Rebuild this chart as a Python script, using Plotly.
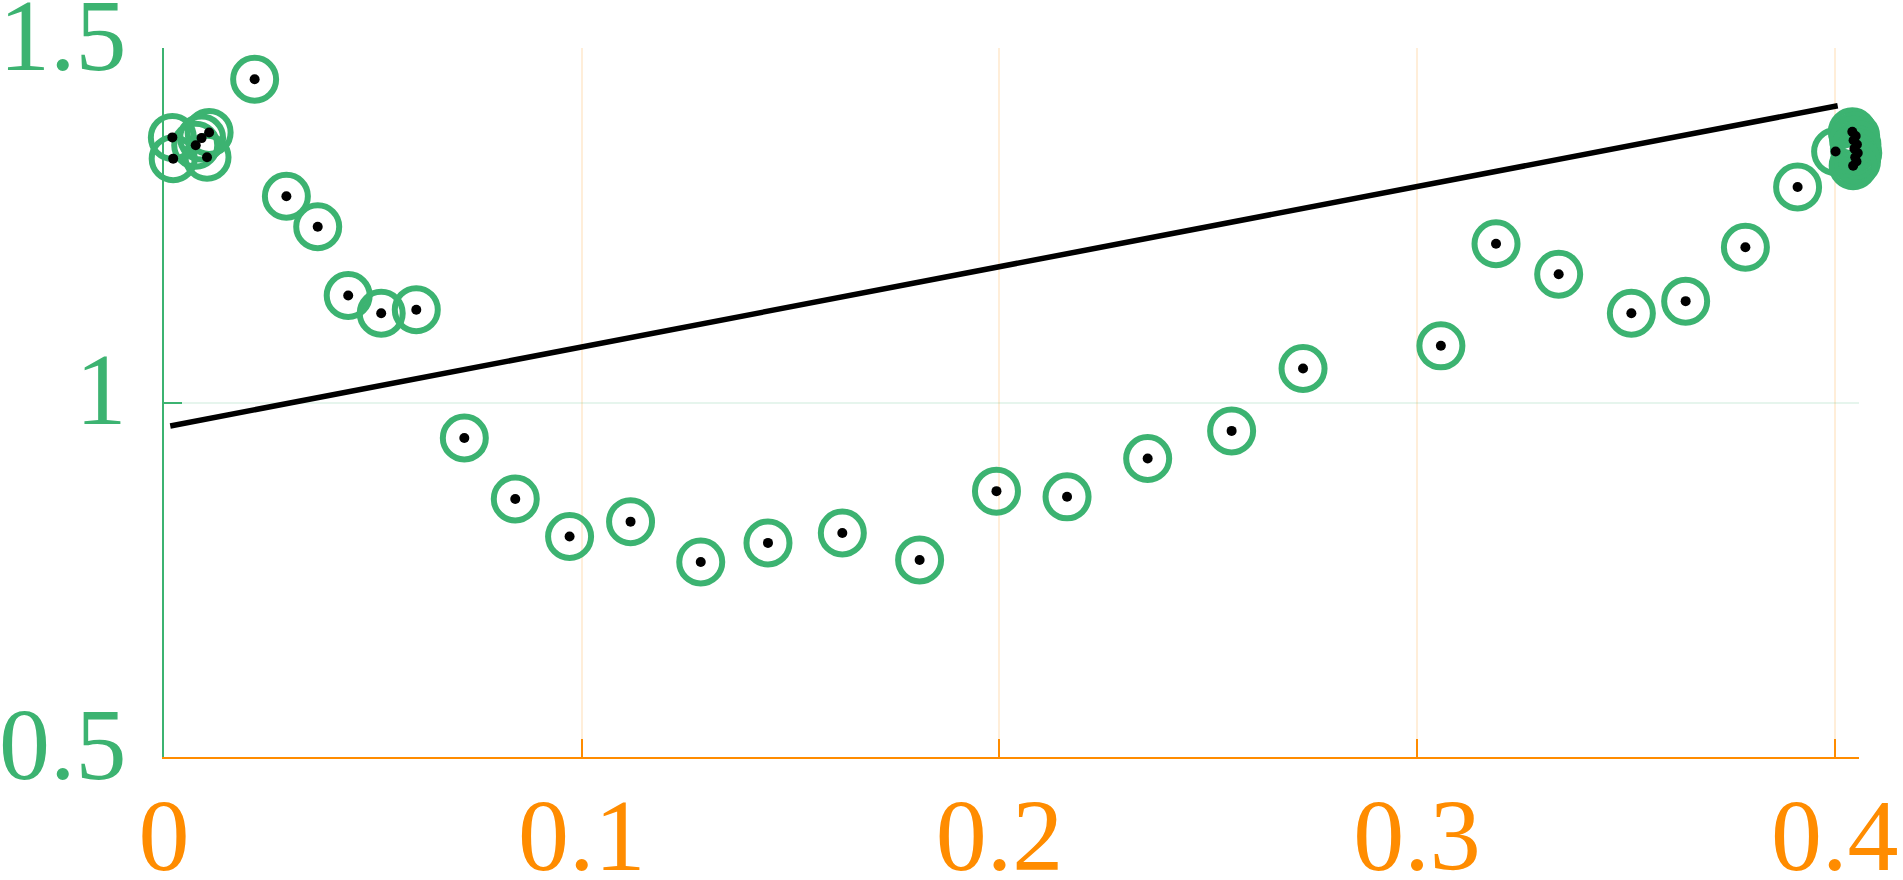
import plotly.graph_objects as go

pts_x = [0.0020, 0.0022, 0.0076, 0.0090, 0.0108, 0.0103,
         0.0217, 0.0293, 0.0368, 0.0441, 0.0520, 0.0604,
         0.0719, 0.0841, 0.0971, 0.1117, 0.1285, 0.1446, 0.1624, 0.1809,
         0.1993, 0.2162, 0.2355, 0.2556, 0.2727, 0.3057, 0.3189, 0.3339,
         0.3513, 0.3643, 0.3786, 0.3911, 0.4002,
         0.4042, 0.4050, 0.4045, 0.4053, 0.4047, 0.4055, 0.4049, 0.4052, 0.4044]
pts_y = [1.374, 1.344, 1.363, 1.373, 1.381, 1.346,
         1.456, 1.291, 1.248, 1.151, 1.126, 1.131,
         0.950, 0.864, 0.811, 0.832, 0.775, 0.802, 0.816, 0.778,
         0.875, 0.867, 0.921, 0.960, 1.048, 1.080, 1.224, 1.181,
         1.126, 1.143, 1.219, 1.304, 1.354,
         1.382, 1.376, 1.370, 1.364, 1.358, 1.352, 1.346, 1.340, 1.334]

# black trend line end points
line_x = [0.0015, 0.4007]
line_y = [0.967, 1.4186]

x_ticks = [0, 0.1, 0.2, 0.3, 0.4]
x_labels = ["0", "0.1", "0.2", "0.3", "0.4"]
y_ticks = [0.5, 1, 1.5]
y_labels = ["0.5", "1", "1.5"]

green = "#3cb371"
orange = "#ff8c00"
font = "Liberation Serif"

fig = go.Figure()
fig.add_trace(go.Scatter(x=line_x, y=line_y, mode="lines",
                         line=dict(color="black", width=5.5), showlegend=False))
fig.add_trace(go.Scatter(x=pts_x, y=pts_y, mode="markers", cliponaxis=False,
                         marker=dict(symbol="circle-open", size=43, color=green,
                                     line=dict(color=green, width=6)),
                         showlegend=False))
fig.add_trace(go.Scatter(x=pts_x, y=pts_y, mode="markers", cliponaxis=False,
                         marker=dict(symbol="circle", size=10, color="black"),
                         showlegend=False))

fig.update_layout(
    width=1903, height=880,
    margin=dict(l=164, r=44, t=48, b=123),
    plot_bgcolor="white", paper_bgcolor="white",
    xaxis=dict(range=[0, 0.4058], tickvals=x_ticks, ticktext=x_labels,
               automargin=False, ticklabeloverflow="allow",
               ticklabelstandoff=-11,
               showline=True, linecolor=orange, linewidth=2,
               ticks="inside", ticklen=18, tickwidth=2, tickcolor=orange,
               showgrid=True, gridcolor="rgba(255,140,0,0.15)", gridwidth=2,
               zeroline=False, tickfont=dict(family=font, size=102, color=orange)),
    yaxis=dict(range=[0.5, 1.5001], tickvals=y_ticks, ticktext=y_labels,
               automargin=False, ticklabeloverflow="allow",
               ticklabelstandoff=15, ticklabelshift=-14,
               showline=True, linecolor=green, linewidth=2,
               ticks="inside", ticklen=18, tickwidth=2, tickcolor=green,
               showgrid=True, gridcolor="rgba(60,179,113,0.13)", gridwidth=2,
               zeroline=False, tickfont=dict(family=font, size=102, color=green)),
)

fig.write_html("out.html", config={"displayModeBar": False},
               post_script="document.body.style.margin = '0';")
